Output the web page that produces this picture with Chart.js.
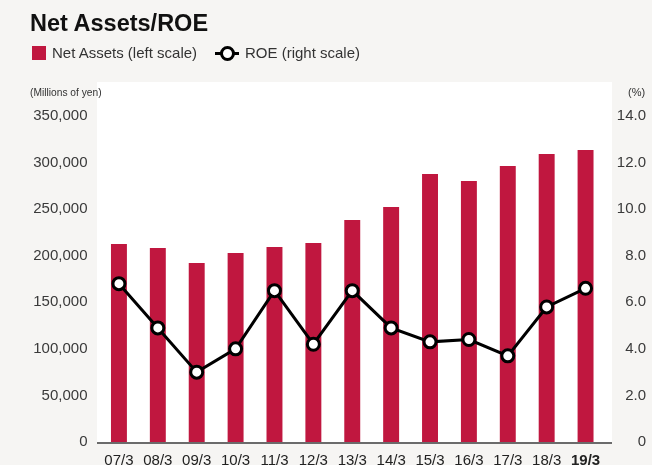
<!DOCTYPE html>
<html>
<head>
<meta charset="utf-8">
<script src="https://cdn.jsdelivr.net/npm/chart.js@4"></script>
<style>
  body { margin: 0; background: #f6f5f3; font-family: "Liberation Sans", Arial, sans-serif; }
  #wrap { position: relative; width: 652px; height: 465px; overflow: hidden; }
  canvas { position: absolute; left: 0; top: 0; }
  .txt { position: absolute; white-space: nowrap; }
  #title { left: 30px; top: 12px; font-size: 23.5px; line-height: 23px; font-weight: bold; color: #111; }
  .leg { top: 45px; font-size: 15px; line-height: 15px; color: #333; }
  #sq { position: absolute; left: 32px; top: 46px; width: 14px; height: 14px; background: #c0173f; }
  #ln { position: absolute; left: 215px; top: 52px; width: 24px; height: 3px; background: #000; }
  #dot { position: absolute; left: 220px; top: 46px; width: 9px; height: 9px; border: 3px solid #000; border-radius: 50%; background: #fff; }
  .unit { top: 87px; font-size: 11px; line-height: 11px; color: #333; }
  .narrow { transform: scaleX(0.93); transform-origin: left top; }
</style>
</head>
<body>
<div id="wrap">
  <canvas id="chart" width="652" height="465"></canvas>
  <div class="txt" id="title">Net Assets/ROE</div>
  <div id="sq"></div>
  <div class="txt leg" style="left:52px">Net Assets (left scale)</div>
  <div id="ln"></div><div id="dot"></div>
  <div class="txt leg" style="left:245px">ROE (right scale)</div>
  <div class="txt unit narrow" style="left:30px">(Millions of yen)</div>
  <div class="txt unit" style="left:628px">(%)</div>
</div>
<script>
// Data
const years = ["07/3", "08/3", "09/3", "10/3", "11/3", "12/3", "13/3", "14/3", "15/3", "16/3", "17/3", "18/3", "19/3"];
const netAssets = [212600, 208300, 192200, 202900, 209400, 213700, 238300, 252300, 287700, 280200, 296300, 309200, 313500];
const roe = [6.8, 4.9, 3.0, 4.0, 6.5, 4.2, 6.5, 4.9, 4.3, 4.4, 3.7, 5.8, 6.6];

// White plot background and bottom axis line
const plotBg = {
    id: "plotBg",
    beforeDraw(chart) {
        const ctx = chart.ctx;
        ctx.save();
        ctx.fillStyle = "#ffffff";
        ctx.fillRect(97, 82, 515, chart.chartArea.bottom - 82);
        ctx.restore();
    },
    afterDatasetsDraw(chart) {
        const ctx = chart.ctx;
        const y = chart.chartArea.bottom + 1;
        ctx.save();
        ctx.strokeStyle = "#6b6b6b";
        ctx.lineWidth = 2;
        ctx.beginPath();
        ctx.moveTo(97, y);
        ctx.lineTo(612, y);
        ctx.stroke();
        ctx.restore();
    }
};

const ctx = document.getElementById("chart").getContext("2d");
new Chart(ctx, {
    data: {
        labels: years,
        datasets: [
            {
                type: "line",
                label: "ROE (right scale)",
                data: roe,
                yAxisID: "y1",
                borderColor: "#000",
                borderWidth: 3,
                pointRadius: 6,
                pointBorderWidth: 3,
                pointBackgroundColor: "#fff",
                pointBorderColor: "#000",
                tension: 0,
                order: 0,
            },
            {
                type: "bar",
                label: "Net Assets (left scale)",
                data: netAssets,
                yAxisID: "y",
                backgroundColor: "#c0173f",
                barPercentage: 0.41,
                categoryPercentage: 1,
                order: 1,
            },
        ],
    },
    options: {
        responsive: false,
        animation: false,
        layout: { padding: { top: 116, right: 6, left: 0, bottom: 0 } },
        plugins: { legend: { display: false }, tooltip: { enabled: false } },
        scales: {
            x: {
                grid: { display: false, drawTicks: false },
                border: { display: false },
                afterFit(scale) { scale.height = 23; },
                ticks: {
                    color: "#222",
                    padding: 10,
                    maxRotation: 0,
                    font: (c) => ({
                        family: "'Liberation Sans', Arial, sans-serif",
                        size: 15,
                        weight: c.index === years.length - 1 ? "bold" : "normal",
                    }),
                },
            },
            y: {
                position: "left",
                min: 0,
                max: 350000,
                grid: { display: false, drawTicks: false },
                border: { display: false },
                afterFit(scale) { scale.width = 99.5; },
                ticks: {
                    stepSize: 50000,
                    color: "#3a3a3a",
                    padding: 12,
                    font: { family: "'Liberation Sans', Arial, sans-serif", size: 15 },
                    callback: (v) => v.toLocaleString("en-US"),
                },
            },
            y1: {
                position: "right",
                min: 0,
                max: 14,
                grid: { display: false, drawTicks: false },
                border: { display: false },
                afterFit(scale) { scale.width = 41; },
                ticks: {
                    stepSize: 2,
                    color: "#3a3a3a",
                    crossAlign: "far",
                    font: { family: "'Liberation Sans', Arial, sans-serif", size: 15 },
                    callback: (v) => (v === 0 ? "0" : v.toFixed(1)),
                },
            },
        },
    },
    plugins: [plotBg],
});
</script>
</body>
</html>
